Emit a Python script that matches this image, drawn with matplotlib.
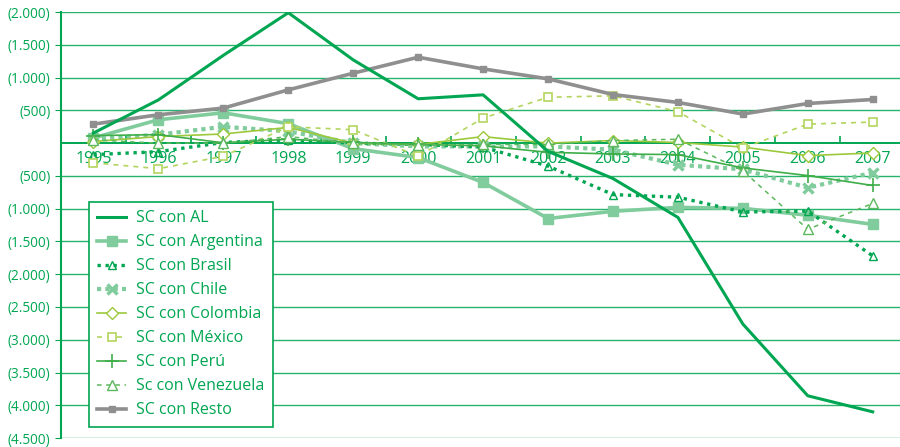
import matplotlib.pyplot as plt
from matplotlib.ticker import FixedLocator

plt.rcParams['font.family'] = ['Open Sans', 'DejaVu Sans']

years = ['1995', '1996', '1997', '1998', '1999', '2000', '2001',
         '2002', '2003', '2004', '2005', '2006', '2007']

sc_al = [155, 660, 1340, 1990, 1270, 677, 737, -125, -540, -1133, -2760, -3855, -4100]
sc_argentina = [80, 357, 463, 297, -84, -220, -600, -1150, -1040, -980, -995, -1100, -1240]
sc_brasil = [-175, -130, 10, 50, 0, -20, -60, -350, -785, -825, -1050, -1037, -1720]
sc_chile = [60, 130, 250, 180, 0, -50, -50, -50, -100, -330, -400, -680, -450]
sc_colombia = [25, 100, 140, 240, 0, -20, 100, 0, 40, 10, -60, -190, -150]
sc_mexico = [-300, -390, -200, 250, 205, -200, 383, 700, 722, 480, -75, 290, 322]
sc_peru = [115, 130, 5, 60, 10, -20, -40, -140, -165, -175, -378, -495, -646]
sc_venezuela = [50, 0, 0, 100, 0, -30, -20, -20, 40, 60, -420, -1315, -920]
sc_resto = [290, 433, 535, 813, 1067, 1311, 1133, 981, 742, 621, 444, 605, 666]

y_ticks = [2000, 1500, 1000, 500, -500, -1000, -1500, -2000, -2500,
           -3000, -3500, -4000, -4500]
y_labels = ['(2.000)', '(1.500)', '(1.000)', '(500)', '(500)', '(1.000)', '(1.500)',
            '(2.000)', '(2.500)', '(3.000)', '(3.500)', '(4.000)', '(4.500)']

green = '#00a651'
light = '#80cc9c'
gray = '#8f8f8f'
yg = '#9cc93b'
yg2 = '#b3d55e'
mid = '#3fae49'
mid2 = '#5cb85c'

fig = plt.figure(figsize=(9, 4.47), dpi=100)
ax = fig.add_axes([0.0678, 0.02, 0.9322, 0.953])
x = list(range(len(years)))

ax.plot(x, sc_al, color=green, lw=2.2, label='SC con AL', zorder=5)
ax.plot(x, sc_argentina, color=light, lw=2.6, marker='s', ms=7, label='SC con Argentina', zorder=4)
ax.plot(x, sc_brasil, color=green, lw=2.4, ls=(0, (1, 1.4)), marker='^', ms=6, mfc='none',
        mew=1, label='SC con Brasil', zorder=4)
ax.plot(x, sc_chile, color=light, lw=3, ls=(0, (1, 1)), marker='x', ms=7, mew=2.5,
        label='SC con Chile', zorder=3)
ax.plot(x, sc_colombia, color=yg, lw=1.2, marker='D', ms=6, mfc='white', mew=1,
        label='SC con Colombia', zorder=4)
ax.plot(x, sc_mexico, color=yg2, lw=1.2, ls=(0, (3, 3)), marker='s', ms=6, mfc='white',
        mew=1.2, label='SC con México', zorder=4)
ax.plot(x, sc_peru, color=mid, lw=1.2, marker='+', ms=10, mew=1.2, label='SC con Perú', zorder=4)
ax.plot(x, sc_venezuela, color=mid2, lw=1.1, ls=(0, (3, 3)), marker='^', ms=7, mfc='white',
        mew=1, label='Sc con Venezuela', zorder=4)
ax.plot(x, sc_resto, color=gray, lw=2.6, marker='s', ms=5, label='SC con Resto', zorder=4)

ax.set_xlim(-0.5, 12.42)
ax.set_ylim(-4500, 2000)
ax.set_yticks(y_ticks)
ax.set_yticklabels(y_labels)
ax.yaxis.grid(True, color=green, lw=1, alpha=0.85)
ax.axhline(0, color=green, lw=1.2, zorder=2)
ax.set_axisbelow(True)

for s in ['top', 'right']:
    ax.spines[s].set_visible(False)
ax.spines['left'].set_color(green)
ax.spines['left'].set_linewidth(1.5)
ax.spines['bottom'].set_position(('data', 0))
ax.spines['bottom'].set_color(green)
ax.spines['bottom'].set_linewidth(1.2)

ax.set_xticks(x)
ax.set_xticklabels(years)
ax.xaxis.set_minor_locator(FixedLocator([i + 0.5 for i in range(12)]))
ax.tick_params(axis='x', which='major', length=0, pad=6, labelsize=11.5, labelcolor=green)
ax.tick_params(axis='x', which='minor', direction='in', length=5, color=green, width=1.2)
ax.tick_params(axis='y', length=4, color=green, labelsize=9.8, labelcolor=green)

leg = ax.legend(loc='lower left', bbox_to_anchor=(0.033, 0.026), borderaxespad=0,
                fontsize=11.5, frameon=True, fancybox=False, edgecolor=green,
                labelspacing=0.5, handlelength=1.8, handletextpad=0.6, borderpad=0.55,
                framealpha=1)
leg.get_frame().set_linewidth(1.2)
for t in leg.get_texts():
    t.set_color(green)

fig.savefig('out.png', dpi=100)
